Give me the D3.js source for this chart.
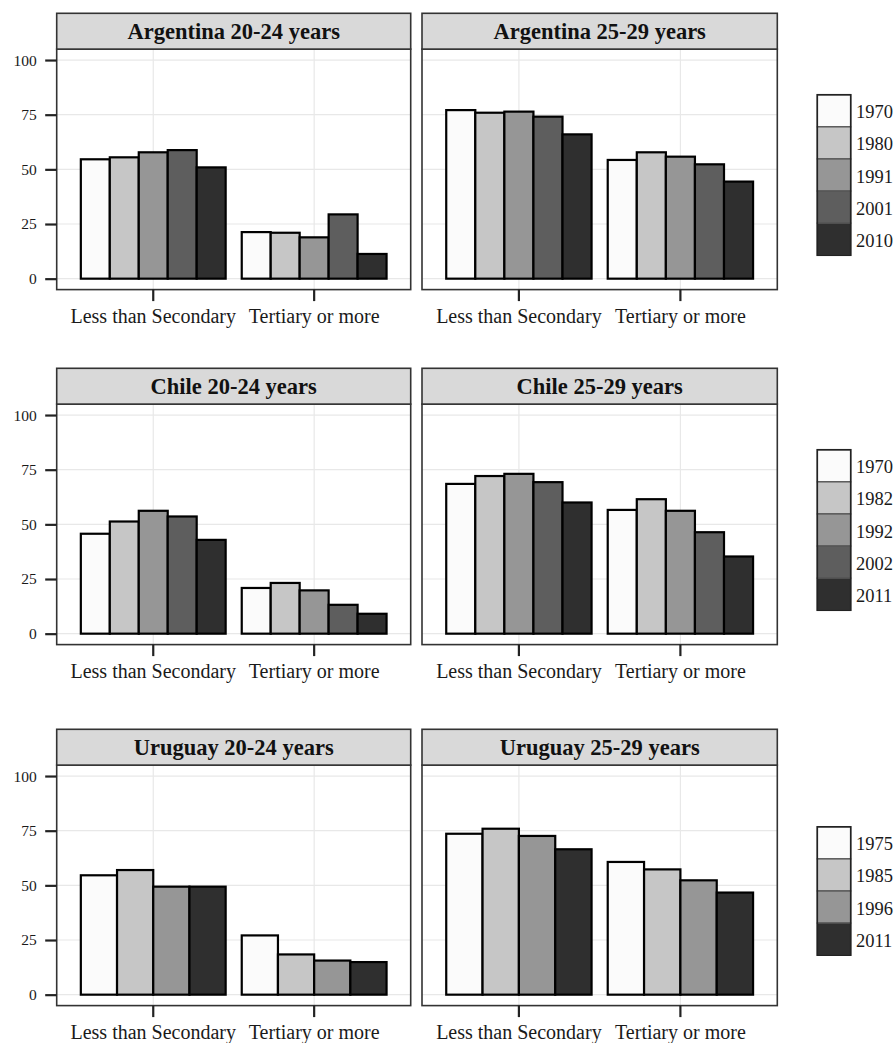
<!DOCTYPE html>
<html><head><meta charset="utf-8">
<script src="https://cdn.jsdelivr.net/npm/d3@7"></script>
<style>body{margin:0;background:#fff}svg{display:block}</style>
</head><body><svg id="c" width="894" height="1043"></svg>
<script>
// ---------- data ----------
const countries = ["Argentina", "Chile", "Uruguay"];
const ageGroups = ["20-24 years", "25-29 years"];
const levels = ["Less than Secondary", "Tertiary or more"];
const yTicks = [0, 25, 50, 75, 100];
const argentinaYears = ["1970", "1980", "1991", "2001", "2010"];
const chileYears = ["1970", "1982", "1992", "2002", "2011"];
const uruguayYears = ["1975", "1985", "1996", "2011"];
// values per level (rows) and census year (columns)
const argentina2024 = [[54.6, 55.5, 57.8, 58.8, 50.9], [21.3, 21.0, 18.9, 29.4, 11.3]];
const argentina2529 = [[77.1, 75.9, 76.4, 74.1, 66.0], [54.3, 57.8, 55.8, 52.3, 44.4]];
const chile2024 = [[45.7, 51.3, 56.2, 53.6, 42.9], [20.9, 23.2, 19.8, 13.2, 9.1]];
const chile2529 = [[68.5, 72.1, 73.1, 69.3, 60.0], [56.6, 61.5, 56.2, 46.4, 35.3]];
const uruguay2024 = [[54.6, 57.0, 49.4, 49.4], [27.1, 18.4, 15.6, 14.9]];
const uruguay2529 = [[73.6, 75.9, 72.6, 66.5], [60.7, 57.3, 52.3, 46.7]];

// ---------- styles ----------
const greys = ["#fbfbfb", "#c6c6c6", "#969696", "#5e5e5e", "#2f2f2f"];
const countryYears = [argentinaYears, chileYears, uruguayYears];
const countryGreyIdx = [[0, 1, 2, 3, 4], [0, 1, 2, 3, 4], [0, 1, 2, 4]];
const countryValues = [[argentina2024, argentina2529], [chile2024, chile2529], [uruguay2024, uruguay2529]];

const colX = [[56.7, 410.7], [422, 777.3]];
const rowTop = [13.3, 368.3, 729.3];
const stripH = 35.8;
const panelH = 240.5;
const FONT = "'Liberation Serif', 'Times New Roman', serif";

const svg = d3.select("#c");
svg.append("rect").attr("width", 894).attr("height", 1043).attr("fill", "#fff");

countries.forEach((country, r) => {
  const years = countryYears[r];
  const colorScale = d3.scaleOrdinal().domain(years).range(countryGreyIdx[r].map(i => greys[i]));
  const pTop = rowTop[r] + stripH;
  const pBot = pTop + panelH;
  const y = d3.scaleLinear().domain([-5, 105]).range([pBot, pTop]);

  ageGroups.forEach((age, c) => {
    const [x0, x1] = colX[c];
    const x = d3.scaleBand().domain(levels).range([x0, x1]).paddingInner(0.1).paddingOuter(0.15);
    const xi = d3.scaleBand().domain(years).range([0, x.bandwidth()]).padding(0);
    const vals = countryValues[r][c];
    const g = svg.append("g");

    // panel background
    g.append("rect").attr("x", x0).attr("y", pTop).attr("width", x1 - x0).attr("height", panelH).attr("fill", "#fff");
    // grid
    g.selectAll(".gy").data(yTicks).join("line")
      .attr("x1", x0).attr("x2", x1).attr("y1", d => y(d)).attr("y2", d => y(d))
      .attr("stroke", "#e8e8e8").attr("stroke-width", 1.2);
    g.selectAll(".gx").data(levels).join("line")
      .attr("x1", d => x(d) + x.bandwidth() / 2).attr("x2", d => x(d) + x.bandwidth() / 2)
      .attr("y1", pTop).attr("y2", pBot)
      .attr("stroke", "#e8e8e8").attr("stroke-width", 1.2);
    // bars
    const barData = [];
    levels.forEach((lv, li) => years.forEach((yr, yi) => barData.push({ lv, yr, v: vals[li][yi] })));
    g.selectAll(".bar").data(barData).join("rect")
      .attr("x", d => x(d.lv) + xi(d.yr))
      .attr("width", xi.bandwidth())
      .attr("y", d => y(d.v))
      .attr("height", d => y(0) - y(d.v))
      .attr("fill", d => colorScale(d.yr))
      .attr("stroke", "#000").attr("stroke-width", 2.2).attr("stroke-linejoin", "miter");
    // panel border
    g.append("rect").attr("x", x0).attr("y", pTop).attr("width", x1 - x0).attr("height", panelH)
      .attr("fill", "none").attr("stroke", "#333").attr("stroke-width", 1.6);
    // strip
    g.append("rect").attr("x", x0).attr("y", rowTop[r]).attr("width", x1 - x0).attr("height", stripH)
      .attr("fill", "#d9d9d9").attr("stroke", "#333").attr("stroke-width", 1.6);
    g.append("text").attr("x", (x0 + x1) / 2).attr("y", rowTop[r] + 26)
      .attr("text-anchor", "middle").attr("font-family", FONT).attr("font-weight", "bold")
      .attr("font-size", 22.5).attr("fill", "#111").text(country + " " + age);

    // x axis
    const xAxis = d3.axisBottom(x).tickSize(11.5).tickPadding(8);
    const ax = g.append("g").attr("transform", `translate(0,${pBot})`).call(xAxis);
    ax.attr("font-family", FONT);
    ax.select(".domain").remove();
    ax.selectAll(".tick line").attr("stroke", "#222").attr("stroke-width", 2.2);
    ax.selectAll(".tick text").attr("font-family", FONT).attr("font-size", 20).attr("fill", "#1a1a1a")
      .attr("dy", "0.71em");

    // y axis (left column only)
    if (c === 0) {
      const yAxis = d3.axisLeft(y).tickValues(yTicks).tickSize(11.5).tickPadding(8.5);
      const ay = g.append("g").attr("transform", `translate(${x0},0)`).call(yAxis);
      ay.attr("font-family", FONT);
      ay.select(".domain").remove();
      ay.selectAll(".tick line").attr("stroke", "#222").attr("stroke-width", 2.2);
      ay.selectAll(".tick text").attr("font-family", FONT).attr("font-size", 15.5).attr("fill", "#1a1a1a");
    }
  });

  // legend
  const keyH = 32.1, keyW = 33.4, lx = 817.3;
  const legTop = rowTop[r] + 161.7 - years.length * keyH / 2;
  const lg = svg.append("g");
  lg.selectAll("rect").data(years).join("rect")
    .attr("x", lx).attr("y", (d, i) => legTop + i * keyH)
    .attr("width", keyW).attr("height", keyH)
    .attr("fill", d => colorScale(d)).attr("stroke", "#555").attr("stroke-width", 1.3);
  lg.append("rect").attr("x", lx).attr("y", legTop).attr("width", keyW).attr("height", keyH * years.length)
    .attr("fill", "none").attr("stroke", "#222").attr("stroke-width", 1.6);
  lg.selectAll("text").data(years).join("text")
    .attr("x", 856).attr("y", (d, i) => legTop + i * keyH + keyH / 2 + 7.5)
    .attr("font-family", FONT).attr("font-size", 18.5).attr("fill", "#1a1a1a").text(d => d);
});
</script></body></html>
